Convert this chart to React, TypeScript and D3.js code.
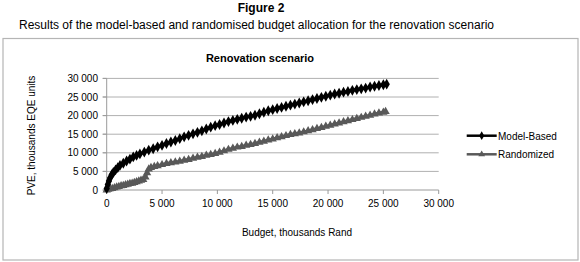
import React from "react";
import * as d3 from "d3";

const figureLabel = "Figure 2";
const figureCaption =
  "Results of the model-based and randomised budget allocation for the renovation scenario";
const chartTitle = "Renovation scenario";
const xAxisTitle = "Budget, thousands Rand";
const yAxisTitle = "PVE, thousands EQE units";

const tickValues = [0, 5000, 10000, 15000, 20000, 25000, 30000];
const tickLabels = ["0", "5 000", "10 000", "15 000", "20 000", "25 000", "30 000"];

const seriesNames = ["Model-Based", "Randomized"];

const modelBudget = [
  0, 100, 200, 300, 450, 600, 800, 1000, 1200, 1500, 1800, 2100, 2400, 2700, 3000, 3400, 3800,
  4200, 4600, 5000, 5400, 5800, 6200, 6600, 7000, 7400, 7800, 8200, 8600, 9000, 9400, 9800,
  10200, 10600, 11000, 11400, 11800, 12200, 12600, 13000, 13400, 13800, 14200, 14600, 15000,
  15400, 15800, 16200, 16600, 17000, 17400, 17800, 18200, 18600, 19000, 19400, 19800, 20200,
  20600, 21000, 21400, 21800, 22200, 22600, 23000, 23400, 23800, 24200, 24600, 25000, 25300,
];
const modelPVE = [
  400, 1500, 2400, 3200, 4100, 4700, 5400, 6000, 6600, 7200, 7800, 8300, 8900, 9300, 9700, 10200,
  10700, 11100, 11600, 12000, 12500, 12900, 13300, 13800, 14300, 14700, 15100, 15500, 15900,
  16400, 16900, 17300, 17600, 18000, 18400, 18700, 19000, 19300, 19600, 19800, 20100, 20500,
  20900, 21300, 21600, 21900, 22200, 22500, 22800, 23100, 23400, 23700, 24000, 24300, 24600,
  24900, 25200, 25500, 25800, 26000, 26300, 26500, 26800, 27000, 27200, 27400, 27700, 27900,
  28100, 28300, 28450,
];

const randomBudget = [
  0, 150, 300, 500, 700, 900, 1100, 1300, 1500, 1700, 1900, 2100, 2300, 2500, 2700, 2900, 3100,
  3300, 3500, 3650, 3800, 4000, 4300, 4600, 5000, 5400, 5800, 6200, 6600, 7000, 7400, 7800, 8200,
  8600, 9000, 9400, 9800, 10200, 10600, 11000, 11400, 11800, 12200, 12600, 13000, 13400, 13800,
  14200, 14600, 15000, 15400, 15800, 16200, 16600, 17000, 17400, 17800, 18200, 18600, 19000,
  19400, 19800, 20200, 20600, 21000, 21400, 21800, 22200, 22600, 23000, 23400, 23800, 24200,
  24600, 25000, 25200,
];
const randomPVE = [
  0, 200, 300, 400, 600, 800, 900, 1100, 1200, 1400, 1500, 1700, 1800, 2000, 2200, 2400, 2600,
  2800, 3500, 4600, 5600, 6000, 6300, 6500, 6800, 7100, 7300, 7500, 7700, 8000, 8200, 8500, 8800,
  9000, 9300, 9500, 9800, 10100, 10500, 10900, 11200, 11500, 11700, 12000, 12200, 12500, 12800,
  13100, 13400, 13700, 14000, 14300, 14600, 14900, 15100, 15300, 15600, 15900, 16200, 16500,
  16800, 17100, 17400, 17700, 18000, 18300, 18600, 18900, 19200, 19500, 19800, 20100, 20400,
  20700, 20900, 21100,
];

const FONT = "'Liberation Sans', Arial, sans-serif";

export default function App() {
  const x = d3.scaleLinear().domain([0, 30000]).range([106.7, 438.7]);
  const y = d3.scaleLinear().domain([0, 30000]).range([190, 78.4]);

  const modelPts: [number, number][] = modelBudget.map((b, i) => [b, modelPVE[i]]);
  const randPts: [number, number][] = randomBudget.map((b, i) => [b, randomPVE[i]]);

  const line = d3
    .line<[number, number]>()
    .x((d) => x(d[0]))
    .y((d) => y(d[1]));

  const diamond = d3.symbol().type(d3.symbolDiamond).size(34)()!;
  const triangle = d3.symbol().type(d3.symbolTriangle).size(30)()!;
  const legendDiamond = d3.symbol().type(d3.symbolDiamond).size(22)()!;
  const legendTriangle = d3.symbol().type(d3.symbolTriangle).size(20)()!;

  const modelColor = "#000000";
  const randColor = "#595959";

  return (
    <svg
      width={580}
      height={262}
      style={{ position: "absolute", left: 0, top: 0, background: "#fff" }}
      fontFamily={FONT}
    >
      <rect x={0} y={0} width={580} height={262} fill="#fff" />
      <text x={261} y={11.5} textAnchor="middle" fontSize={12} fontWeight="bold" fill="#000">
        {figureLabel}
      </text>
      <text x={256.5} y={29} textAnchor="middle" fontSize={12} fill="#000">
        {figureCaption}
      </text>

      <rect x={3} y={38.5} width={575} height={221.5} fill="#fff" stroke="#b5b5b5" strokeWidth={1.2} />

      <text x={260} y={62} textAnchor="middle" fontSize={11} fontWeight="bold" fill="#000">
        {chartTitle}
      </text>

      {tickValues.slice(1).map((v) => (
        <line
          key={"g" + v}
          x1={x(0) - 4}
          x2={x(30000)}
          y1={y(v)}
          y2={y(v)}
          stroke="#b0b0b0"
          strokeWidth={1}
        />
      ))}
      <line x1={x(0)} x2={x(0)} y1={y(30000)} y2={y(0)} stroke="#9a9a9a" strokeWidth={1} />
      <line x1={x(0) - 4} x2={x(30000)} y1={y(0)} y2={y(0)} stroke="#9a9a9a" strokeWidth={1} />
      {tickValues.map((v) => (
        <line key={"xt" + v} x1={x(v)} x2={x(v)} y1={y(0)} y2={y(0) + 4} stroke="#9a9a9a" />
      ))}
      {tickValues.map((v) => (
        <line key={"yt" + v} x1={x(0) - 4} x2={x(0)} y1={y(v)} y2={y(v)} stroke="#9a9a9a" />
      ))}

      {tickValues.map((v, i) => (
        <text key={"yl" + v} x={98} y={y(v) + 3.5} textAnchor="end" fontSize={10} fill="#000">
          {tickLabels[i]}
        </text>
      ))}
      {tickValues.map((v, i) => (
        <text key={"xl" + v} x={x(v)} y={207} textAnchor="middle" fontSize={10} fill="#000">
          {tickLabels[i]}
        </text>
      ))}

      <text x={297} y={236} textAnchor="middle" fontSize={10} fill="#000">
        {xAxisTitle}
      </text>
      <text
        transform={`translate(35,135.5) rotate(-90)`}
        textAnchor="middle"
        fontSize={10}
        fill="#000"
      >
        {yAxisTitle}
      </text>

      <path d={line(randPts)!} fill="none" stroke={randColor} strokeWidth={3} />
      {randPts.map((p, i) => (
        <path
          key={"rm" + i}
          d={triangle}
          transform={`translate(${x(p[0])},${y(p[1])})`}
          fill={randColor}
        />
      ))}
      <path d={line(modelPts)!} fill="none" stroke={modelColor} strokeWidth={3} />
      {modelPts.map((p, i) => (
        <path
          key={"mm" + i}
          d={diamond}
          transform={`translate(${x(p[0])},${y(p[1])})`}
          fill={modelColor}
        />
      ))}

      <line x1={466.7} x2={496.7} y1={135.7} y2={135.7} stroke={modelColor} strokeWidth={2.5} />
      <path d={legendDiamond} transform="translate(481.7,135.7)" fill={modelColor} />
      <text x={498} y={139.5} fontSize={10} fill="#000">
        {seriesNames[0]}
      </text>
      <line x1={466.7} x2={496.7} y1={154.3} y2={154.3} stroke={randColor} strokeWidth={2.5} />
      <path d={legendTriangle} transform="translate(481.7,154.3)" fill={randColor} />
      <text x={498} y={158} fontSize={10} fill="#000">
        {seriesNames[1]}
      </text>
    </svg>
  );
}
